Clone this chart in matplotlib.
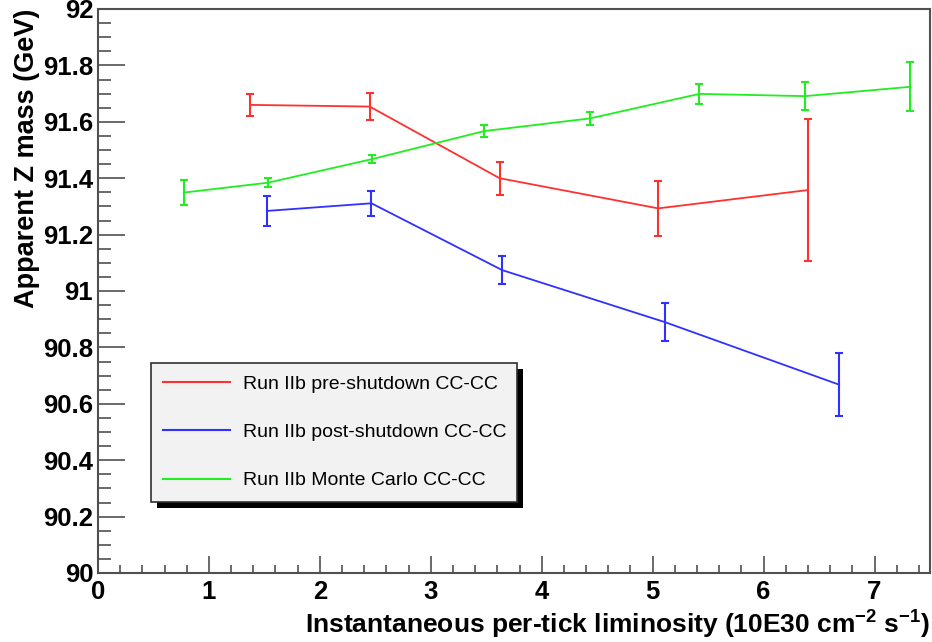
import matplotlib
matplotlib.use("Agg")
import matplotlib.pyplot as plt
from matplotlib.lines import Line2D
from matplotlib.patches import Rectangle
from matplotlib.ticker import MultipleLocator, FormatStrFormatter
from matplotlib.transforms import IdentityTransform

# ---------------------------------------------------------------------------
# data
# ---------------------------------------------------------------------------
PRE_X   = [1.37, 2.45, 3.62, 5.05, 6.40]
PRE_Y   = [91.660, 91.654, 91.400, 91.293, 91.358]
PRE_ERR = [0.038, 0.049, 0.058, 0.098, 0.252]

POST_X   = [1.525, 2.465, 3.644, 5.115, 6.68]
POST_Y   = [91.284, 91.311, 91.074, 90.889, 90.668]
POST_ERR = [0.052, 0.045, 0.049, 0.068, 0.112]

MC_X   = [0.773, 1.531, 2.474, 3.48, 4.434, 5.42, 6.374, 7.32]
MC_Y   = [91.349, 91.384, 91.468, 91.567, 91.612, 91.699, 91.691, 91.724]
MC_ERR = [0.044, 0.016, 0.015, 0.022, 0.024, 0.035, 0.049, 0.087]

LABELS = [
    "Run IIb pre-shutdown CC-CC",
    "Run IIb post-shutdown CC-CC",
    "Run IIb Monte Carlo CC-CC",
]
COLORS = ["#ff3030", "#3030ff", "#20ee20"]

XLABEL = r"Instantaneous per-tick liminosity (10E30 cm$^{-2}$ s$^{-1}$)"
YLABEL = "Apparent Z mass (GeV)"

plt.rcParams["font.family"] = ["Liberation Sans", "DejaVu Sans"]
plt.rcParams["mathtext.fontset"] = "custom"
plt.rcParams["mathtext.rm"] = "Liberation Sans:bold"
plt.rcParams["mathtext.default"] = "rm"

FRAME = "#505050"

fig = plt.figure(figsize=(9.32, 6.42), dpi=100)
ax = fig.add_axes([98 / 932, 1 - 573 / 642, 832 / 932, 564 / 642])

series = [(PRE_X, PRE_Y, PRE_ERR), (POST_X, POST_Y, POST_ERR), (MC_X, MC_Y, MC_ERR)]
for (x, y, e), c in zip(series, COLORS):
    ax.errorbar(x, y, yerr=e, color=c, lw=1.3, elinewidth=1.5,
                capsize=2.6, capthick=1.5)

ax.set_xlim(0, 7.5)
ax.set_ylim(90, 92)

ax.xaxis.set_major_locator(MultipleLocator(1))
ax.xaxis.set_minor_locator(MultipleLocator(0.2))
ax.yaxis.set_major_locator(MultipleLocator(0.2))
ax.yaxis.set_minor_locator(MultipleLocator(0.05))
ax.xaxis.set_major_formatter(FormatStrFormatter("%g"))
ax.yaxis.set_major_formatter(FormatStrFormatter("%g"))

ax.tick_params(axis="y", which="major", direction="in", length=19.5, width=1.2,
               color=FRAME, labelsize=18.5, pad=3.5)
ax.tick_params(axis="y", which="minor", direction="in", length=9.4, width=1.2,
               color=FRAME)
ax.tick_params(axis="x", which="major", direction="in", length=12, width=1.2,
               color=FRAME, labelsize=18.5, pad=5)
ax.tick_params(axis="x", which="minor", direction="in", length=6, width=1.2,
               color=FRAME)
for lab in ax.get_xticklabels() + ax.get_yticklabels():
    lab.set_fontweight("bold")

for sp in ax.spines.values():
    sp.set_color(FRAME)
    sp.set_linewidth(1.5)

ax.set_xlabel(XLABEL, fontsize=19, fontweight="bold", loc="right")
ax.set_ylabel(YLABEL, fontsize=19.5, fontweight="bold", loc="top")
ax.xaxis.set_label_coords(1.0, -0.063)
ax.yaxis.set_label_coords(-0.070, 1.0)

# legend, ROOT style box with a hard black shadow
handles = [Line2D([0], [0], color=c, lw=1.5) for c in COLORS]
leg = ax.legend(handles, LABELS, loc="upper left",
                bbox_to_anchor=(53 / 832, 210 / 564 - 0.1, 366 / 832, 0.1),
                mode="expand", fontsize=14, handlelength=3.4,
                handletextpad=0.67, labelspacing=1.57, borderpad=0.64,
                borderaxespad=0, fancybox=False, framealpha=1,
                facecolor="#f2f2f2", edgecolor="#303030")
leg.get_frame().set_linewidth(1.2)
leg.set_zorder(6)

fig.canvas.draw()
bb = leg.get_window_extent()
shadow = Rectangle((bb.x0 + 6, bb.y0 - 6), bb.width, bb.height,
                   transform=IdentityTransform(), facecolor="black",
                   edgecolor="none", zorder=5.5, clip_on=False)
ax.add_artist(shadow)

fig.savefig("out.png", dpi=100)
